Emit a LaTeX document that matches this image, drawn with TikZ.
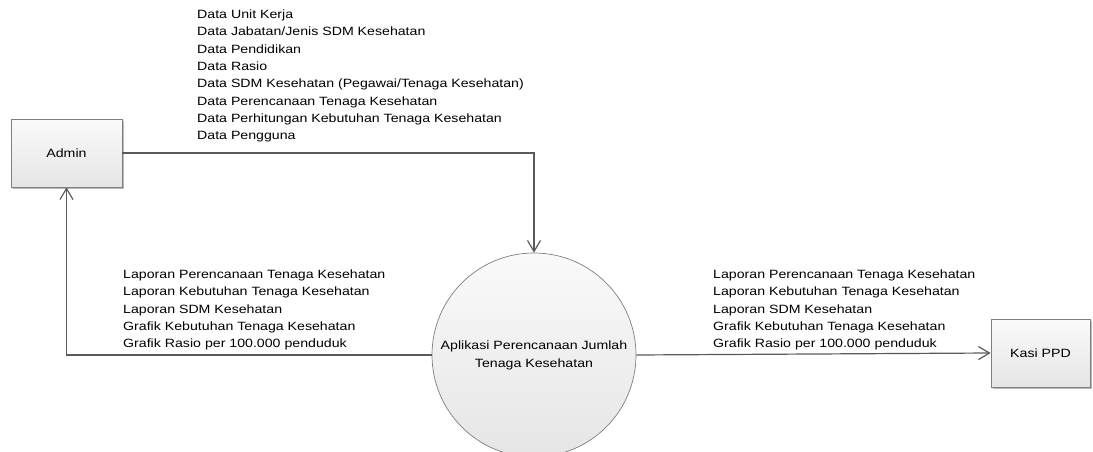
\documentclass[tikz,border=0pt]{standalone}
\usepackage{fontspec}
\setmainfont{Liberation Sans}[FakeStretch=1.18]
\usetikzlibrary{arrows.meta,shadows}
\definecolor{linegray}{HTML}{5A5A5A}
\definecolor{edgegray}{HTML}{7F7F7F}
\tikzset{
  entity/.style={draw=edgegray, line width=0.7pt, rectangle, minimum width=111pt, minimum height=68pt,
    top color=white!98!black, bottom color=white!90!black,
    drop shadow={shadow xshift=1.6pt, shadow yshift=-1.6pt, fill=black!28, opacity=1},
    font=\fontsize{12}{17}\selectfont},
  process/.style={draw=edgegray, line width=0.7pt, circle, minimum size=204pt, inner sep=0pt,
    top color=white!98!black, bottom color=white!90!black,
    align=center, font=\fontsize{12}{18}\selectfont},
  flow/.style={draw=linegray, line width=1.2pt, -{Straight Barb[length=11pt,width=13pt,line width=1.2pt]}},
  flowlabel/.style={anchor=north west, inner sep=0pt, align=left, font=\fontsize{12}{17.3}\selectfont}
}
\begin{document}
\begin{tikzpicture}[x=1pt,y=-1pt]
\useasboundingbox (0,0) rectangle (1093,452);
\node[entity] (admin) at (66.5,153) {Admin};
\node[entity, minimum width=99pt] (kasi) at (1040.5,353) {Kasi PPD};
\node[process] (proc) at (534,355) {Aplikasi Perencanaan Jumlah\\Tenaga Kesehatan};

\draw[flow] (admin.east) -| (proc.north);
\draw[flow] (proc.west) -| (admin.south);
\draw[flow] (proc.east) -- (kasi.west);

\node[flowlabel] (lin) at (197,9.7) {Data Unit Kerja\\Data Jabatan/Jenis SDM Kesehatan\\Data Pendidikan\\Data Rasio\\Data SDM Kesehatan (Pegawai/Tenaga Kesehatan)\\Data Perencanaan Tenaga Kesehatan\\Data Perhitungan Kebutuhan Tenaga Kesehatan\\Data Pengguna};
\node[flowlabel] (lback) at (123,269.7) {Laporan Perencanaan Tenaga Kesehatan\\Laporan Kebutuhan Tenaga Kesehatan\\Laporan SDM Kesehatan\\Grafik Kebutuhan Tenaga Kesehatan\\Grafik Rasio per 100.000 penduduk};
\node[flowlabel] (lout) at (713,269.7) {Laporan Perencanaan Tenaga Kesehatan\\Laporan Kebutuhan Tenaga Kesehatan\\Laporan SDM Kesehatan\\Grafik Kebutuhan Tenaga Kesehatan\\Grafik Rasio per 100.000 penduduk};
\end{tikzpicture}
\end{document}
